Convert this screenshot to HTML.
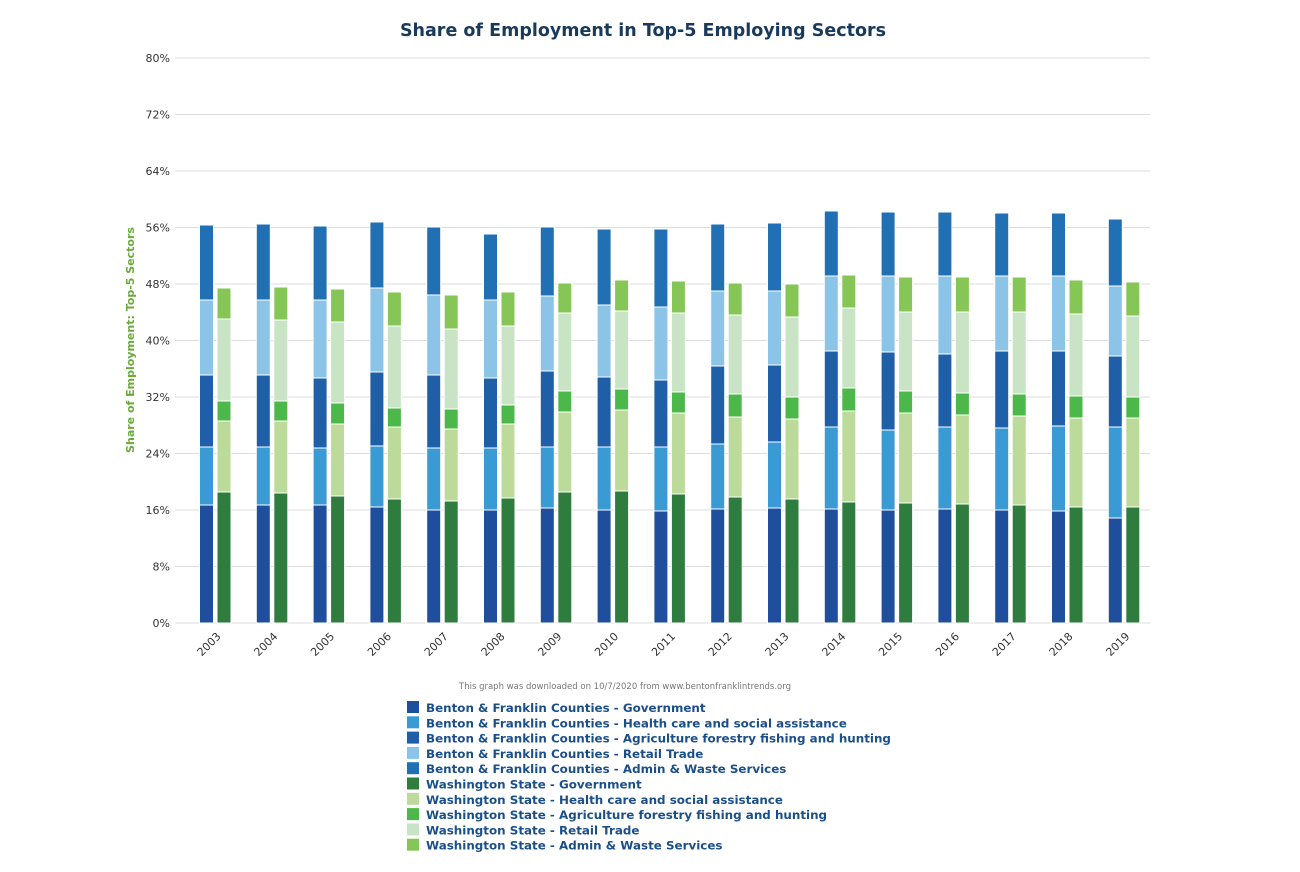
<!DOCTYPE html>
<html><head><meta charset="utf-8"><style>
body{margin:0;background:#fff;width:1300px;height:867px;overflow:hidden;font-family:"Liberation Sans","DejaVu Sans",sans-serif}
</style></head><body>
<svg id="s" width="1300" height="867" xmlns="http://www.w3.org/2000/svg" font-family="DejaVu Sans, Liberation Sans, sans-serif"></svg>
<script>
const s=document.getElementById('s');let h='';
h+='<text x="643" y="36" text-anchor="middle" font-size="17.5" font-weight="bold" fill="#1a3a5c">Share of Employment in Top-5 Employing Sectors</text>';
for(let k=0;k<=10;k++){const y=623-k*56.5;h+=`<line x1="175" x2="1150" y1="${y}" y2="${y}" stroke="#ddd" stroke-width="1"/>`;
h+=`<text x="170" y="${y+4}" text-anchor="end" font-size="11" fill="#333">${k*8}%</text>`;}
h+='<text transform="translate(134,340) rotate(-90)" text-anchor="middle" font-size="11" font-weight="bold" fill="#6aaa3a">Share of Employment: Top-5 Sectors</text>';
const L=[[505,447,375,300,225],[505,447,375,300,224],[505,448,378,300,226],[507,446,372,288,222],[510,448,375,295,227],[510,448,378,300,234],[508,447,371,296,227],[510,447,377,305,229],[511,447,380,307,229],[509,444,366,291,224],[508,442,365,291,223],[509,427,351,276,211],[510,430,352,276,212],[509,427,354,276,212],[510,428,351,276,213],[511,426,351,276,213],[518,427,356,286,219]];
const R=[[492,421,401,319,288],[493,421,401,320,287],[496,424,403,322,289],[499,427,408,326,292],[501,429,409,329,295],[498,424,405,326,292],[492,412,391,313,283],[491,410,389,311,280],[494,413,392,313,281],[497,417,394,315,283],[499,419,397,317,284],[502,411,388,308,275],[503,413,391,312,277],[504,415,393,312,277],[505,416,394,312,277],[507,418,396,314,280],[507,418,397,316,282]];
const CL=['#1f4e9c','#3a9ad4','#1f5fa8','#8cc4e8','#2170b4'],CR=['#2e7d3e','#bcdb9a','#4cb84a','#c8e4c4','#86c656'];
function bar(x,t,c){let b=623;for(let i=0;i<5;i++){h+=`<rect x="${x}" y="${t[i]}" width="14" height="${b-t[i]}" fill="${c[i]}" stroke="#fff" stroke-width="1"/>`;b=t[i];}}
for(let g=0;g<17;g++){const x=199.5+g*56.8;bar(x,L[g],CL);bar(x+17.5,R[g],CR);
const cx=x+16;h+=`<text transform="translate(${cx+6},637) rotate(-45)" text-anchor="end" font-size="11" fill="#333">${2003+g}</text>`;}
h+='<text x="625" y="689" text-anchor="middle" font-size="8.5" fill="#777">This graph was downloaded on 10/7/2020 from www.bentonfranklintrends.org</text>';
const names=['Benton &amp; Franklin Counties - Government','Benton &amp; Franklin Counties - Health care and social assistance','Benton &amp; Franklin Counties - Agriculture forestry fishing and hunting','Benton &amp; Franklin Counties - Retail Trade','Benton &amp; Franklin Counties - Admin &amp; Waste Services','Washington State - Government','Washington State - Health care and social assistance','Washington State - Agriculture forestry fishing and hunting','Washington State - Retail Trade','Washington State - Admin &amp; Waste Services'];
const cols=CL.concat(CR);
for(let i=0;i<10;i++){const y=707+i*15.3;h+=`<rect x="407" y="${y-6}" width="12" height="12" fill="${cols[i]}"/><text x="426" y="${y+5}" font-size="11.9" font-weight="bold" fill="#1b4f8a">${names[i]}</text>`;}
s.innerHTML=h;
</script>
</body></html>
